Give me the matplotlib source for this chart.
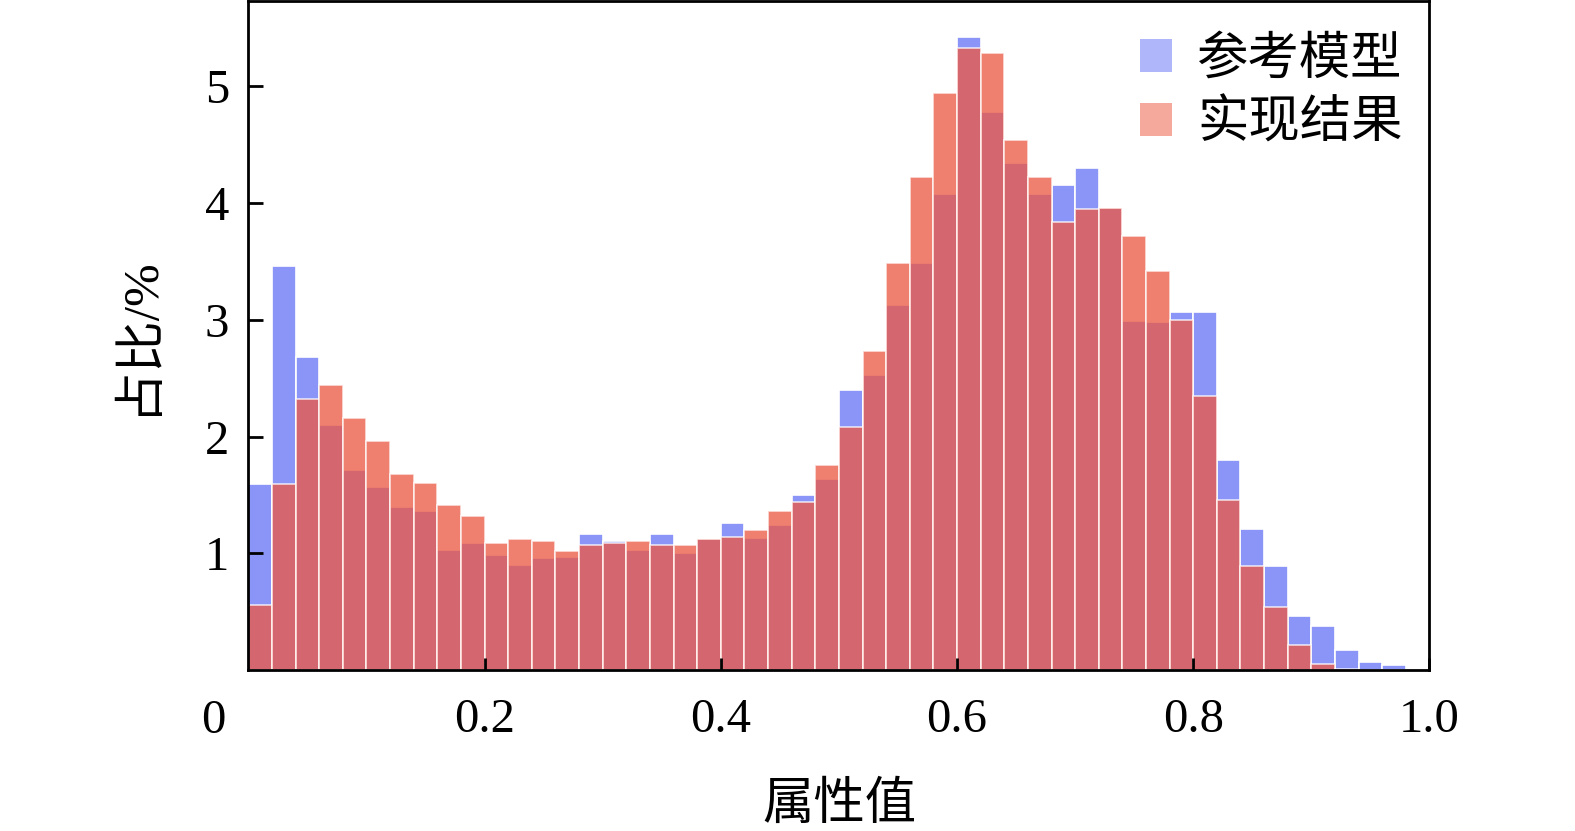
"""
Histogram: attribute value distribution, reference model vs implementation.
"""

import matplotlib
matplotlib.use("Agg")
import matplotlib.pyplot as plt
from matplotlib.patches import Patch
import numpy as np


_FIG_SIZE = (15.75, 8.31)
_DPI = 100
_COLOR_REF = "#8b95f7"       # blue
_COLOR_IMPL = "#eb5843"      # red, drawn with alpha on top
_LEGEND_REF = "#b0b6fa"
_LEGEND_IMPL = "#f5a89c"

BIN_WIDTH = 0.02

# percentage per bin, bins start at 0.00, 0.02, ..., 0.96
ref_vals = [1.59, 3.46, 2.68, 2.10, 1.71, 1.57, 1.40, 1.36, 1.03, 1.09,
            0.99, 0.90, 0.96, 0.97, 1.17, 1.11, 1.03, 1.17, 1.00, 1.12,
            1.26, 1.13, 1.24, 1.50, 1.64, 2.40, 2.53, 3.13, 3.49, 4.08,
            5.42, 4.78, 4.34, 4.08, 4.15, 4.30, 3.96, 2.99, 2.98, 3.07,
            3.07, 1.80, 1.21, 0.89, 0.46, 0.38, 0.17, 0.07, 0.045]
impl_vals = [0.56, 1.59, 2.32, 2.44, 2.16, 1.96, 1.68, 1.60, 1.41, 1.32,
             1.09, 1.12, 1.11, 1.02, 1.07, 1.09, 1.11, 1.07, 1.07, 1.12,
             1.14, 1.20, 1.36, 1.44, 1.76, 2.08, 2.73, 3.49, 4.22, 4.94,
             5.33, 5.28, 4.54, 4.22, 3.84, 3.95, 3.96, 3.72, 3.42, 3.00,
             2.35, 1.46, 0.89, 0.54, 0.22, 0.05, 0.01, 0.0, 0.0]

series_labels = ["参考模型", "实现结果"]
x_ticks = [0.2, 0.4, 0.6, 0.8, 1.0]
x_tick_labels = ["0.2", "0.4", "0.6", "0.8", "1.0"]
y_ticks = [1, 2, 3, 4, 5]


def main():
    plt.rcParams["font.family"] = ["Liberation Serif", "Noto Sans CJK SC"]

    fig = plt.figure(figsize=_FIG_SIZE, dpi=_DPI)
    ax = fig.add_axes([0.1577, 0.1935, 0.7499, 0.8055])

    left = np.arange(len(ref_vals)) * BIN_WIDTH
    ax.bar(left, ref_vals, BIN_WIDTH, align="edge", color=_COLOR_REF,
           edgecolor="white", linewidth=1.2)
    ax.bar(left, impl_vals, BIN_WIDTH, align="edge", color=_COLOR_IMPL,
           alpha=0.76, edgecolor="white", linewidth=1.2)

    ax.set_xlim(0, 1.0)
    ax.set_ylim(0, 5.73)
    ax.set_xticks(x_ticks)
    ax.set_xticklabels(x_tick_labels)
    ax.set_yticks(y_ticks)

    ax.tick_params(axis="x", direction="in", length=9, width=2,
                   labelsize=35, pad=20)
    ax.tick_params(axis="y", direction="in", length=11, width=2,
                   labelsize=35, pad=14)
    for sp in ax.spines.values():
        sp.set_linewidth(2)

    # origin label sits left of the corner
    fig.text(213 / 1575, (831 - 733) / 831, "0", fontsize=35,
             ha="center", va="baseline")

    ax.set_xlabel("属性值", fontsize=37, labelpad=29)
    ax.set_ylabel("占比/%", fontsize=37, labelpad=31)

    handles = [Patch(facecolor=_LEGEND_REF, edgecolor="none"),
               Patch(facecolor=_LEGEND_IMPL, edgecolor="none")]
    ax.legend(handles, series_labels, loc="upper right", frameon=False,
              fontsize=37, handlelength=0.62, handleheight=0.62,
              handletextpad=0.5, labelspacing=0.3,
              bbox_to_anchor=(1.008, 1.0), borderaxespad=0.3)

    fig.savefig("out.png", dpi=_DPI)
    plt.close(fig)


if __name__ == "__main__":
    main()
